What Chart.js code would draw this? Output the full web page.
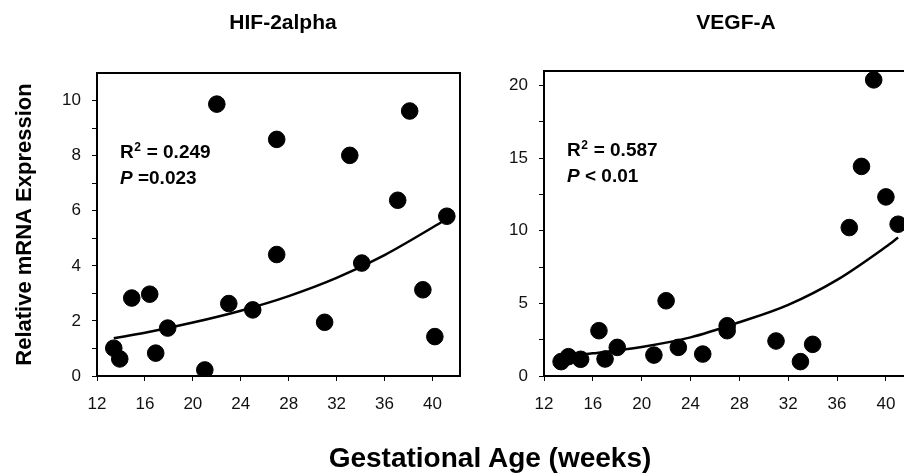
<!DOCTYPE html>
<html>
<head>
<meta charset="utf-8">
<script src="https://cdn.jsdelivr.net/npm/chart.js@4/dist/chart.umd.min.js"></script>
<style>
  html, body { margin: 0; padding: 0; background: #fff; }
  body { width: 904px; height: 475px; overflow: hidden; position: relative; }
  canvas { position: absolute; top: 0; }
  #xlabel {
    position: absolute; left: 0; top: 444px; width: 980px;
    text-align: center; font: bold 28px 'Liberation Sans', Arial, sans-serif;
    line-height: 28px; color: #000;
  }
</style>
</head>
<body>
<canvas id="hifChart" width="480" height="475" style="left:0"></canvas>
<canvas id="vegfChart" width="480" height="475" style="left:480px"></canvas>
<div id="xlabel">Gestational Age (weeks)</div>
<script>
// gestational age ticks shared by both panels
const weekTicks = [12, 16, 20, 24, 28, 32, 36, 40];

// HIF-2alpha
const hifWeeks  = [13.4, 13.9, 14.9, 16.4, 16.9, 17.9, 21.0, 22.0, 23.0, 25.0, 27.0, 27.0, 31.0, 33.1, 34.1, 37.1, 38.1, 39.2, 40.2, 41.2];
const hifValues = [1.01, 0.62, 2.83, 2.97, 0.83, 1.74, 0.22, 9.87, 2.63, 2.40, 8.59, 4.41, 1.95, 8.01, 4.10, 6.38, 9.62, 3.13, 1.43, 5.80];
const hifFitWeeks  = [13.4, 16, 20, 24, 28, 32, 36, 40, 41.1];
const hifFitValues = [1.37, 1.57, 1.94, 2.37, 2.90, 3.56, 4.39, 5.39, 5.68];
const hifYTicks  = [0, 1, 2, 3, 4, 5, 6, 7, 8, 9, 10];
const hifYLabels = ['0', '', '2', '', '4', '', '6', '', '8', '', '10'];

// VEGF-A
const vegfWeeks  = [13.4, 14.0, 15.0, 16.5, 17.0, 18.0, 21.0, 22.0, 23.0, 25.0, 27.0, 27.0, 31.0, 33.0, 34.0, 37.0, 38.0, 39.0, 40.0, 41.0];
const vegfValues = [0.99, 1.33, 1.15, 3.12, 1.17, 1.97, 1.44, 5.18, 1.97, 1.51, 3.46, 3.12, 2.41, 0.99, 2.18, 10.22, 14.43, 20.39, 12.33, 10.45];
const vegfFitWeeks  = [13.4, 16, 20, 24, 28, 32, 36, 40, 41.0];
const vegfFitValues = [1.33, 1.56, 2.00, 2.66, 3.70, 4.90, 6.62, 8.90, 9.53];
const vegfYTicks  = [0, 2.5, 5, 7.5, 10, 12.5, 15, 17.5, 20];
const vegfYLabels = ['0', '', '5', '', '10', '', '15', '', '20'];

const FONT = "'Liberation Sans', Arial, sans-serif";

function pts(xs, ys) {
  return xs.map((x, i) => ({ x: x, y: ys[i] }));
}

// frame, panel title and R^2 / P text
const panelDeco = {
  id: 'panelDeco',
  afterDraw(chart, args, opts) {
    const ctx = chart.ctx;
    const a = chart.chartArea;
    ctx.save();
    ctx.strokeStyle = '#000';
    ctx.lineWidth = 2;
    ctx.strokeRect(a.left, a.top, a.right - a.left, a.bottom - a.top);

    ctx.fillStyle = '#000';
    ctx.textAlign = 'center';
    ctx.textBaseline = 'alphabetic';
    ctx.font = 'bold 21px ' + FONT;
    ctx.fillText(opts.title, opts.titleX, 29);

    ctx.textAlign = 'left';
    let x = a.left + 23, y = a.top + 85;
    ctx.font = 'bold 19px ' + FONT;
    ctx.fillText('R', x, y);
    x += ctx.measureText('R').width;
    ctx.font = 'bold 12px ' + FONT;
    ctx.fillText('2', x + 0.5, y - 7);
    x += ctx.measureText('2').width + 1;
    ctx.font = 'bold 19px ' + FONT;
    ctx.fillText(' = ' + opts.r2, x, y);

    x = a.left + 23; y = a.top + 111;
    ctx.font = 'italic bold 19px ' + FONT;
    ctx.fillText('P', x, y);
    x += ctx.measureText('P').width;
    ctx.font = 'bold 19px ' + FONT;
    ctx.fillText(opts.p, x, y);
    ctx.restore();
  }
};

function makeChart(id, xs, ys, fx, fy, yMax, yTicks, yLabels, deco, axisW, padRight, padTop, yTitle) {
  return new Chart(document.getElementById(id), {
    type: 'scatter',
    data: {
      datasets: [{
        data: pts(xs, ys),
        backgroundColor: '#000',
        borderColor: '#000',
        pointRadius: 8.3,
        pointHoverRadius: 8.3,
        order: 1
      }, {
        type: 'line',
        data: pts(fx, fy),
        borderColor: '#000',
        borderWidth: 2.5,
        pointRadius: 0,
        cubicInterpolationMode: 'monotone',
        fill: false,
        order: 2
      }]
    },
    options: {
      responsive: false,
      animation: false,
      events: [],
      layout: { padding: { left: 0, top: padTop, right: padRight, bottom: 49 } },
      plugins: { legend: { display: false }, tooltip: { enabled: false }, panelDeco: deco },
      scales: {
        x: {
          type: 'linear', min: 12, max: 42.3,
          afterBuildTicks: s => { s.ticks = weekTicks.map(v => ({ value: v })); },
          afterFit: s => { s.height = 50; },
          grid: { drawOnChartArea: false, tickLength: 5, color: '#000', lineWidth: 1 },
          border: { color: '#000', width: 2 },
          ticks: { autoSkip: false, maxRotation: 0, padding: 13, color: '#111', font: { family: FONT, size: 17 } }
        },
        y: {
          min: 0, max: yMax,
          afterBuildTicks: s => { s.ticks = yTicks.map(v => ({ value: v })); },
          afterFit: s => { s.width = axisW; },
          grid: { drawOnChartArea: false, tickLength: 5, color: '#000', lineWidth: 1 },
          border: { color: '#000', width: 2 },
          ticks: {
            autoSkip: false, padding: 11, color: '#111', font: { family: FONT, size: 17 },
            callback: (v, i) => yLabels[i]
          },
          title: yTitle ? {
            display: true, text: yTitle, color: '#000',
            font: { family: FONT, size: 22, weight: 'bold', lineHeight: 1.2 },
            padding: { top: 12, bottom: 0 }
          } : { display: false }
        }
      }
    },
    plugins: [panelDeco]
  });
}

makeChart('hifChart', hifWeeks, hifValues, hifFitWeeks, hifFitValues, 11, hifYTicks, hifYLabels,
  { title: 'HIF-2alpha', titleX: 283, r2: '0.249', p: ' =0.023' }, 97, 20, 73, 'Relative mRNA Expression');

makeChart('vegfChart', vegfWeeks, vegfValues, vegfFitWeeks, vegfFitValues, 21, vegfYTicks, vegfYLabels,
  { title: 'VEGF-A', titleX: 256, r2: '0.587', p: ' < 0.01' }, 64, 46, 71, null);
</script>
</body>
</html>
